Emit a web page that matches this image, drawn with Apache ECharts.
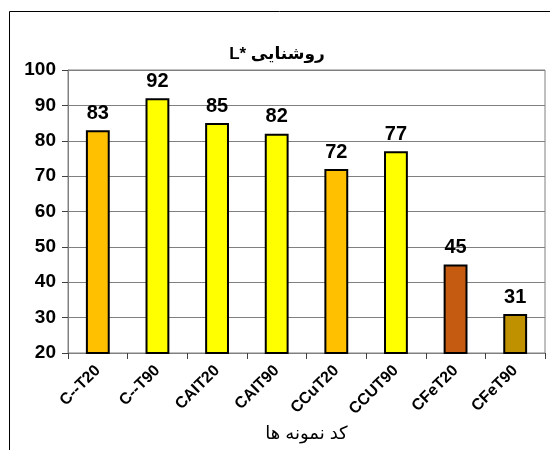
<!DOCTYPE html>
<html><head><meta charset="utf-8">
<script src="https://cdn.jsdelivr.net/npm/echarts@6/dist/echarts.min.js"></script>
<style>html,body{margin:0;padding:0;background:#fff}#c{width:550px;height:450px}</style>
</head><body><div id="c"></div>
<script>
const categories = ['C--T20','C--T90','CAIT20','CAIT90','CCuT20','CCUT90','CFeT20','CFeT90'];
const values = [83, 92, 85, 82, 72, 77, 45, 31];
const barColors = ['#FFC000','#FFFF00','#FFFF00','#FFFF00','#FFC000','#FFFF00','#C55A11','#BF9000'];
const titleText = 'L* روشنایی';
const xName = 'کد نمونه ها';
const FONT = "'Liberation Sans', Arial, 'DejaVu Sans', sans-serif";

const chart = echarts.init(document.getElementById('c'), null, {renderer:'canvas'});
chart.setOption({
  animation: false,
  backgroundColor: '#fff',
  title: {
    text: titleText, left: 272, top: 41, textAlign: 'center',
    textStyle: {fontFamily: FONT, fontWeight: 'bold', fontSize: 17, color: '#000'}
  },
  graphic: [
    {type:'line', shape:{x1:9.5,y1:11.5,x2:550,y2:11.5}, style:{stroke:'#000', lineWidth:1}},
    {type:'line', shape:{x1:9.5,y1:11.5,x2:9.5,y2:450}, style:{stroke:'#000', lineWidth:1}}
  ],
  grid: {left: 68, right: 5, top: 70, bottom: 97, containLabel: false, outerBoundsMode: 'none',
         show: true, borderColor: '#808080', borderWidth: 1},
  xAxis: {
    type: 'category', data: categories,
    name: xName, nameLocation: 'middle', nameGap: 71,
    nameTextStyle: {fontFamily: FONT, fontWeight: 'normal', fontSize: 18, color: '#000'},
    axisLine: {lineStyle: {color: '#808080', width: 1}},
    axisTick: {show: true, length: 6, lineStyle: {color: '#404040'}, alignWithLabel: false},
    axisLabel: {rotate: 45, interval: 0, margin: 15,
      fontFamily: FONT, fontWeight: 'bold', fontSize: 16, color: '#000'}
  },
  yAxis: {
    type: 'value', min: 20, max: 100, interval: 10,
    axisLine: {show: true, lineStyle: {color: '#808080'}},
    axisTick: {show: true, length: 6, lineStyle: {color: '#404040'}},
    axisLabel: {fontFamily: FONT, fontWeight: 'bold', fontSize: 19, color: '#000', margin: 12},
    splitLine: {show: true, lineStyle: {color: '#808080', width: 1}}
  },
  series: [{
    type: 'bar', barWidth: '40%',
    data: values.map((v,i)=>({value:v, itemStyle:{color:barColors[i]}})),
    itemStyle: {borderColor: '#000', borderWidth: 2},
    label: {show: true, position: 'top', distance: 7,
      fontFamily: FONT, fontWeight: 'bold', fontSize: 20, color: '#000'}
  }]
});
</script></body></html>
